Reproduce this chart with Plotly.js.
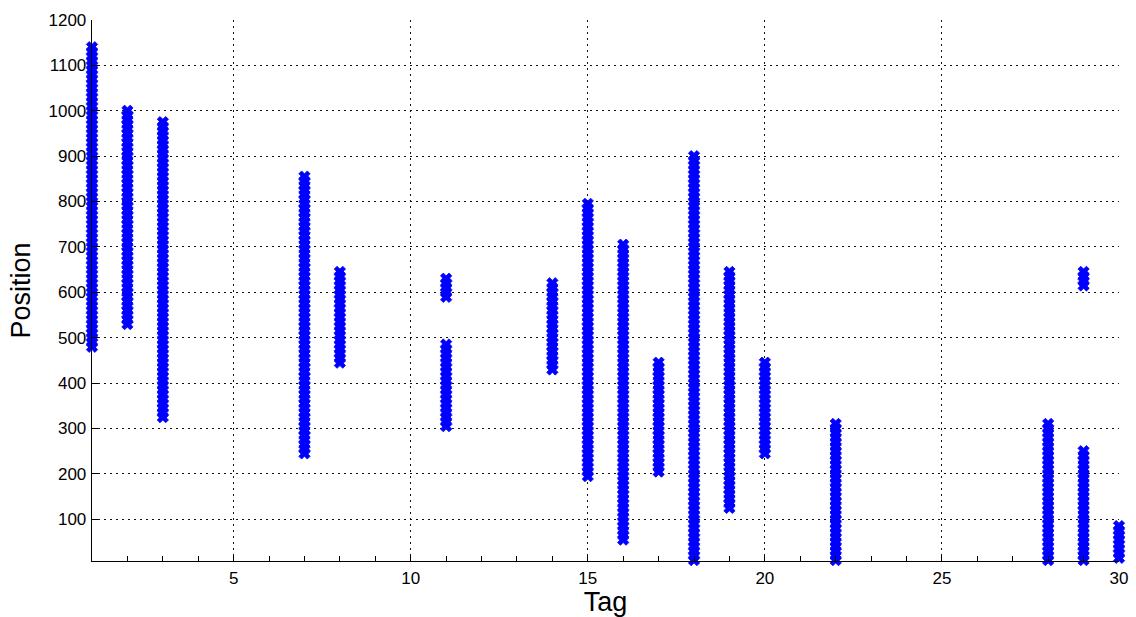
<!DOCTYPE html>
<html>
<head>
<meta charset="utf-8">
<script src="https://cdn.plot.ly/plotly-3.0.1.min.js"></script>
<style>html,body{margin:0;padding:0;background:#fff;}#chart{width:1136px;height:617px;}</style>
</head>
<body>
<div id="chart"></div>
<script>
// Tag numbers (x) and the positions recorded for each tag (y)
const tags = [1, 2, 3, 7, 8, 11, 14, 15, 16, 17, 18, 19, 20, 22, 28, 29, 30];

const tag1 = [480,490,500,510,520,530,540,550,560,570,580,590,600,610,620,630,640,650,660,670,680,690,700,710,720,730,740,750,760,770,780,790,800,810,820,830,840,850,860,870,880,890,900,910,920,930,940,950,960,970,980,990,1000,1010,1020,1030,1040,1050,1060,1070,1080,1090,1100,1110,1120,1130,1140];
const tag2 = [530,540,550,560,570,580,590,600,610,620,630,640,650,660,670,680,690,700,710,720,730,740,750,760,770,780,790,800,810,820,830,840,850,860,870,880,890,900,910,920,930,940,950,960,970,980,990,1000];
const tag3 = [325,335,345,355,365,375,385,395,405,415,425,435,445,455,465,475,485,495,505,515,525,535,545,555,565,575,585,595,605,615,625,635,645,655,665,675,685,695,705,715,725,735,745,755,765,775,785,795,805,815,825,835,845,855,865,875,885,895,905,915,925,935,945,955,965,975];
const tag7 = [245,255,265,275,285,295,305,315,325,335,345,355,365,375,385,395,405,415,425,435,445,455,465,475,485,495,505,515,525,535,545,555,565,575,585,595,605,615,625,635,645,655,665,675,685,695,705,715,725,735,745,755,765,775,785,795,805,815,825,835,845,855];
const tag8 = [445,455,465,475,485,495,505,515,525,535,545,555,565,575,585,595,605,615,625,635,645];
const tag11 = [305,315,325,335,345,355,365,375,385,395,405,415,425,435,445,455,465,475,485,590,600,610,620,630];
const tag14 = [430,440,450,460,470,480,490,500,510,520,530,540,550,560,570,580,590,600,610,620];
const tag15 = [195,205,215,225,235,245,255,265,275,285,295,305,315,325,335,345,355,365,375,385,395,405,415,425,435,445,455,465,475,485,495,505,515,525,535,545,555,565,575,585,595,605,615,625,635,645,655,665,675,685,695,705,715,725,735,745,755,765,775,785,795];
const tag16 = [55,65,75,85,95,105,115,125,135,145,155,165,175,185,195,205,215,225,235,245,255,265,275,285,295,305,315,325,335,345,355,365,375,385,395,405,415,425,435,445,455,465,475,485,495,505,515,525,535,545,555,565,575,585,595,605,615,625,635,645,655,665,675,685,695,705];
const tag17 = [205,215,225,235,245,255,265,275,285,295,305,315,325,335,345,355,365,375,385,395,405,415,425,435,445];
const tag18 = [10,20,30,40,50,60,70,80,90,100,110,120,130,140,150,160,170,180,190,200,210,220,230,240,250,260,270,280,290,300,310,320,330,340,350,360,370,380,390,400,410,420,430,440,450,460,470,480,490,500,510,520,530,540,550,560,570,580,590,600,610,620,630,640,650,660,670,680,690,700,710,720,730,740,750,760,770,780,790,800,810,820,830,840,850,860,870,880,890,900];
const tag19 = [125,135,145,155,165,175,185,195,205,215,225,235,245,255,265,275,285,295,305,315,325,335,345,355,365,375,385,395,405,415,425,435,445,455,465,475,485,495,505,515,525,535,545,555,565,575,585,595,605,615,625,635,645];
const tag20 = [245,255,265,275,285,295,305,315,325,335,345,355,365,375,385,395,405,415,425,435,445];
const tag22 = [10,20,30,40,50,60,70,80,90,100,110,120,130,140,150,160,170,180,190,200,210,220,230,240,250,260,270,280,290,300,310];
const tag28 = [10,20,30,40,50,60,70,80,90,100,110,120,130,140,150,160,170,180,190,200,210,220,230,240,250,260,270,280,290,300,310];
const tag29 = [10,20,30,40,50,60,70,80,90,100,110,120,130,140,150,160,170,180,190,200,210,220,230,240,250,615,625,635,645];
const tag30 = [15,25,35,45,55,65,75,85];

const positions = [tag1, tag2, tag3, tag7, tag8, tag11, tag14, tag15, tag16, tag17, tag18, tag19, tag20, tag22, tag28, tag29, tag30];

const xs = [], ys = [];
tags.forEach((t, i) => {
  positions[i].forEach(p => { xs.push(t); ys.push(p); });
});

const font = 'Liberation Sans, Arial, Helvetica, sans-serif';

const trace = {
  type: 'scatter',
  mode: 'markers',
  x: xs,
  y: ys,
  cliponaxis: false,
  marker: {
    symbol: 'x',
    size: 10,
    color: 'rgb(0,0,255)',
    line: {color: 'rgb(0,0,255)', width: 0.8}
  },
  hoverinfo: 'x+y'
};

const layout = {
  width: 1136,
  height: 617,
  margin: {l: 92, r: 17, t: 20, b: 56},
  paper_bgcolor: '#fff',
  plot_bgcolor: '#fff',
  showlegend: false,
  font: {family: font, color: '#000', size: 17},
  xaxis: {
    range: [1, 30],
    tick0: 0,
    dtick: 5,
    ticks: 'inside',
    ticklen: 6,
    tickcolor: '#000',
    showline: true,
    linecolor: '#000',
    linewidth: 1.3,
    mirror: false,
    showgrid: true,
    gridcolor: '#111',
    griddash: '2px,4px',
    gridwidth: 1,
    zeroline: false,
    tickfont: {family: font, size: 17, color: '#000'},
    ticklabelstandoff: 1,
    minor: {dtick: 1, tick0: 0, ticks: 'inside', ticklen: 5, tickcolor: '#000', showgrid: false},
    title: {text: 'Tag', font: {family: font, size: 27, color: '#000'}, standoff: 4}
  },
  yaxis: {
    range: [8, 1200],
    tick0: 0,
    dtick: 100,
    ticks: 'inside',
    ticklen: 6,
    tickcolor: '#000',
    showline: true,
    linecolor: '#000',
    linewidth: 1.3,
    mirror: false,
    showgrid: true,
    gridcolor: '#111',
    griddash: '2px,4px',
    gridwidth: 1,
    zeroline: false,
    tickfont: {family: font, size: 17, color: '#000'},
    ticklabelstandoff: 1,
    title: {text: 'Position', font: {family: font, size: 27, color: '#000'}, standoff: 10}
  }
};

Plotly.newPlot('chart', [trace], layout, {displayModeBar: false, staticPlot: true});
</script>
</body>
</html>
